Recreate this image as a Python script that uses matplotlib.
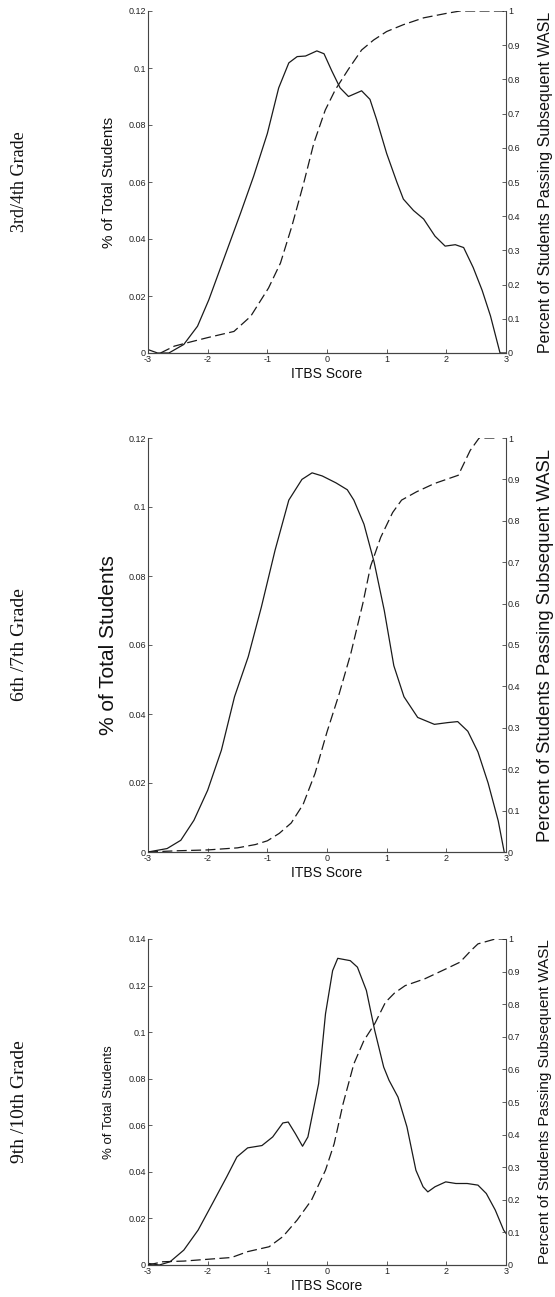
import matplotlib.pyplot as plt
import numpy as np

W, H = 555, 1297

grades = ['3rd/4th Grade', '6th /7th Grade', '9th /10th Grade']

# solid line: share of students at each ITBS score (left axis)
dens1_x = [-3, -2.84, -2.65, -2.4, -2.17, -1.98, -1.73, -1.45, -1.23, -1.0, -0.81, -0.64, -0.5,
           -0.36, -0.17, -0.05, 0.08, 0.22, 0.36, 0.47, 0.58, 0.72, 0.83, 1.0, 1.17, 1.28, 1.45,
           1.62, 1.81, 1.98, 2.15, 2.29, 2.45, 2.6, 2.74, 2.9, 3.0]
dens1_y = [0.0012, 0, 0, 0.003, 0.0094, 0.0187, 0.033, 0.049, 0.062, 0.077, 0.093, 0.1018, 0.104,
           0.1042, 0.106, 0.105, 0.099, 0.093, 0.090, 0.091, 0.092, 0.089, 0.082, 0.070, 0.060, 0.054,
           0.050, 0.047, 0.041, 0.0375, 0.038, 0.037, 0.030, 0.022, 0.013, 0.0, 0.0]

dens2_x = [-3, -2.68, -2.45, -2.23, -2.0, -1.77, -1.55, -1.32, -1.10, -0.87, -0.64, -0.42, -0.25,
           -0.08, 0.15, 0.34, 0.45, 0.62, 0.79, 0.96, 1.12, 1.29, 1.52, 1.80, 2.02, 2.19, 2.36, 2.53,
           2.70, 2.87, 2.97]
dens2_y = [0, 0.001, 0.0034, 0.0092, 0.0179, 0.0295, 0.045, 0.0566, 0.071, 0.0875, 0.102, 0.108,
           0.1099, 0.109, 0.107, 0.105, 0.102, 0.095, 0.084, 0.070, 0.054, 0.045, 0.039, 0.037,
           0.0375, 0.0378, 0.035, 0.029, 0.020, 0.009, 0.0]

dens3_x = [-3, -2.81, -2.63, -2.40, -2.16, -1.92, -1.68, -1.51, -1.33, -1.09, -0.91, -0.74, -0.65,
           -0.53, -0.41, -0.32, -0.14, -0.025, 0.094, 0.18, 0.39, 0.51, 0.66, 0.80, 0.95, 1.04,
           1.19, 1.34, 1.49, 1.61, 1.69, 1.81, 1.99, 2.16, 2.35, 2.53, 2.67, 2.82, 2.96, 3.0]
dens3_y = [0.0007, 0, 0.0014, 0.0064, 0.015, 0.0264, 0.0379, 0.0464, 0.0503, 0.0513, 0.055, 0.061,
           0.0614, 0.0564, 0.051, 0.055, 0.0779, 0.1079, 0.1264, 0.1317, 0.1307, 0.1279, 0.1179,
           0.1007, 0.085, 0.0793, 0.0721, 0.0593, 0.0407, 0.0336, 0.0314, 0.0336, 0.0357, 0.035,
           0.035, 0.0343, 0.0307, 0.0236, 0.015, 0.0136]

# dashed line: share passing the later WASL (right axis)
pass1_x = [-2.79, -2.56, -2.34, -2.0, -1.56, -1.28, -0.98, -0.78, -0.59, -0.39, -0.22, -0.03, 0.14,
           0.36, 0.58, 0.78, 1.0, 1.28, 1.62, 2.0, 2.23, 3.0]
pass1_y = [0, 0.02, 0.03, 0.045, 0.063, 0.107, 0.19, 0.263, 0.37, 0.497, 0.614, 0.71, 0.77, 0.83,
           0.886, 0.915, 0.94, 0.96, 0.98, 0.993, 1.0, 1.0]

pass2_x = [-3, -2.5, -2, -1.5, -1.2, -1.0, -0.8, -0.6, -0.4, -0.2, 0, 0.2, 0.4, 0.6, 0.73, 0.9,
           1.1, 1.25, 1.5, 1.8, 2.0, 2.2, 2.4, 2.55, 2.85]
pass2_y = [0, 0.003, 0.005, 0.01, 0.018, 0.027, 0.045, 0.07, 0.115, 0.19, 0.29, 0.38, 0.48, 0.60,
           0.69, 0.76, 0.82, 0.85, 0.87, 0.89, 0.90, 0.91, 0.97, 1.0, 1.0]

pass3_x = [-3, -2.75, -2.40, -2.04, -1.60, -1.33, -0.97, -0.74, -0.50, -0.26, -0.025, 0.12, 0.27,
           0.45, 0.62, 0.80, 0.98, 1.13, 1.31, 1.64, 1.99, 2.23, 2.41, 2.53, 2.82, 3.0]
pass3_y = [0, 0.01, 0.012, 0.017, 0.023, 0.041, 0.056, 0.087, 0.138, 0.199, 0.291, 0.372, 0.495,
           0.617, 0.689, 0.74, 0.806, 0.834, 0.857, 0.878, 0.908, 0.929, 0.964, 0.985, 1.0, 1.0]

left_max = [0.12, 0.12, 0.14]
x_ticks = [-3, -2, -1, 0, 1, 2, 3]

dens = [(dens1_x, dens1_y), (dens2_x, dens2_y), (dens3_x, dens3_y)]
passing = [(pass1_x, pass1_y), (pass2_x, pass2_y), (pass3_x, pass3_y)]

# pixel boxes of the three panels (top, bottom) and label sizes
boxes = [(11, 353), (438, 852), (939, 1265)]
left_fs = [11, 15, 9.5]
right_fs = [11.5, 13.3, 11]
grade_fs = [13, 14, 14]
x0, x1 = 148, 506

plt.rcParams['font.family'] = ['Liberation Sans', 'DejaVu Sans']
ink = '#1a1a1a'
axc = '#444444'

fig = plt.figure(figsize=(W / 100, H / 100), dpi=100)

for i in range(3):
    top, bot = boxes[i]
    hpx = bot - top
    ax = fig.add_axes([x0 / W, 1 - bot / H, (x1 - x0) / W, hpx / H])
    ax2 = ax.twinx()

    ax.plot(dens[i][0], dens[i][1], color=ink, lw=0.9)
    ax2.plot(passing[i][0], passing[i][1], color=ink, lw=0.9, dashes=(8, 3.5))

    ax.set_xlim(-3, 3)
    ax.set_ylim(0, left_max[i])
    ax2.set_ylim(0, 1)

    lt = np.round(np.arange(0, left_max[i] + 0.001, 0.02), 2)
    ax.set_yticks(lt)
    ax.set_yticklabels(['%g' % v for v in lt])
    rt = np.round(np.arange(0, 1.001, 0.1), 1)
    ax2.set_yticks(rt)
    ax2.set_yticklabels(['%g' % v for v in rt])
    ax.set_xticks(x_ticks)
    ax.set_xticklabels(['%g' % v for v in x_ticks])

    for a in (ax, ax2):
        a.spines['top'].set_visible(False)
        for s in a.spines.values():
            s.set_color(axc)
            s.set_linewidth(0.8)
        a.tick_params(direction='in', length=3, width=0.6, labelsize=6.5, pad=1.5,
                      color=axc, labelcolor='#222222')
    ax.spines['right'].set_visible(False)
    ax2.spines['left'].set_visible(False)

    ax.set_ylabel('% of Total Students', fontsize=left_fs[i], va='center', color='#111111')
    ax.yaxis.set_label_coords(-0.11, 0.5)
    ax2.set_ylabel('Percent of Students Passing Subsequent WASL', fontsize=right_fs[i],
                   va='center', color='#111111')
    ax2.yaxis.set_label_coords(1.109, 0.5)
    ax.set_xlabel('ITBS Score', fontsize=10, va='center', color='#111111')
    ax.xaxis.set_label_coords(0.5, -21 / hpx)

    fig.text(20 / W, 1 - (top + bot) / 2 / H, grades[i], rotation=90, ha='center', va='center',
             family='Liberation Serif', fontsize=grade_fs[i], color='#111111')

fig.savefig('out.png', dpi=100)
